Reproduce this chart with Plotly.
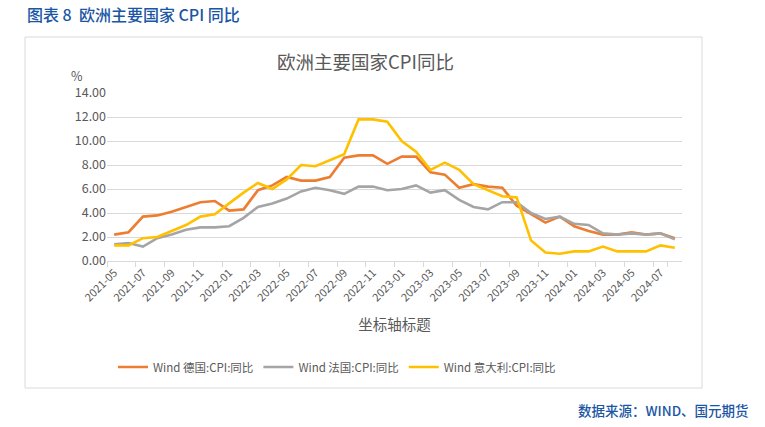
import plotly.graph_objects as go

months = [f"{y}-{m:02d}" for y, m in
          [(2021, m) for m in range(5, 13)] + [(2022, m) for m in range(1, 13)] +
          [(2023, m) for m in range(1, 13)] + [(2024, m) for m in range(1, 9)]]

germany = [2.2, 2.4, 3.7, 3.8, 4.1, 4.5, 4.9, 5.0,
           4.2, 4.3, 5.9, 6.3, 7.0, 6.7, 6.7, 7.0, 8.6, 8.8, 8.8, 8.1,
           8.7, 8.7, 7.4, 7.2, 6.1, 6.4, 6.2, 6.1, 4.6, 3.9, 3.2, 3.7,
           2.9, 2.5, 2.2, 2.2, 2.4, 2.2, 2.3, 1.9]
france = [1.4, 1.5, 1.2, 1.9, 2.2, 2.6, 2.8, 2.8,
          2.9, 3.6, 4.5, 4.8, 5.2, 5.8, 6.1, 5.9, 5.6, 6.2, 6.2, 5.9,
          6.0, 6.3, 5.7, 5.9, 5.1, 4.5, 4.3, 4.9, 4.9, 4.0, 3.5, 3.7,
          3.1, 3.0, 2.3, 2.2, 2.3, 2.2, 2.3, 1.8]
italy = [1.3, 1.3, 1.9, 2.0, 2.5, 3.0, 3.7, 3.9,
         4.8, 5.7, 6.5, 6.0, 6.8, 8.0, 7.9, 8.4, 8.9, 11.8, 11.8, 11.6,
         10.0, 9.1, 7.6, 8.2, 7.6, 6.4, 5.9, 5.4, 5.3, 1.7, 0.7, 0.6,
         0.8, 0.8, 1.2, 0.8, 0.8, 0.8, 1.3, 1.1]

series_names = ["Wind 德国:CPI:同比", "Wind 法国:CPI:同比", "Wind 意大利:CPI:同比"]
colors = ["#ED7D31", "#A5A5A5", "#FFC000"]

tick_labels = months[::2]
y_ticks = [0, 2, 4, 6, 8, 10, 12, 14]

FONT = "Noto Sans CJK SC, Liberation Sans, sans-serif"
GRAY = "#595959"

fig = go.Figure()
for name, vals, c in zip(series_names, [germany, france, italy], colors):
    fig.add_trace(go.Scatter(x=months, y=vals, mode="lines", name=name,
                             line=dict(color=c, width=2.6)))

# plot area in pixels: x 107..682, y 93..261
L, R, T, B = 107, 682, 93, 261
W, H = 765, 427
PW, PH = R - L, B - T

def px(x):
    return (x - L) / PW

def py(y):
    return (B - y) / PH

fig.update_layout(
    width=W, height=H,
    margin=dict(l=L, r=W - R, t=T, b=H - B),
    paper_bgcolor="white", plot_bgcolor="white",
    font=dict(family=FONT, color=GRAY, size=11),
    showlegend=True,
    legend=dict(orientation="h", x=px(337), xanchor="center", y=py(367), yanchor="middle",
                font=dict(size=11.5, color=GRAY), itemwidth=30, tracegroupgap=0,
                bgcolor="rgba(0,0,0,0)"),
    xaxis=dict(type="category", range=[-0.5, len(months) - 0.5],
               tickvals=tick_labels, ticktext=tick_labels, tickangle=-45,
               tickson="boundaries", ticks="outside", ticklen=5, tickcolor="#D9D9D9",
               showline=True, linecolor="#D9D9D9", linewidth=1, showgrid=False,
               tickfont=dict(size=11, color=GRAY),
               title=dict(text="坐标轴标题", font=dict(size=14.5, color=GRAY), standoff=16)),
    yaxis=dict(range=[0, 14], tickvals=y_ticks, ticktext=[f"{v:.2f}" for v in y_ticks],
               showgrid=True, gridcolor="#D9D9D9", gridwidth=1, zeroline=False,
               showline=False, ticks="", tickfont=dict(size=12.5, color=GRAY)),
)

fig.add_shape(type="rect", xref="paper", yref="paper",
              x0=px(25), x1=px(702), y0=py(388), y1=py(37),
              line=dict(color="#D9D9D9", width=1), layer="below")

anns = [
    dict(text="图表 8  欧洲主要国家 CPI 同比", x=px(25), y=py(14), xanchor="left", yanchor="middle",
         font=dict(size=16, color="#1A56A4", family=FONT, weight=500)),
    dict(text="欧洲主要国家CPI同比", x=px(365), y=py(61), xanchor="center", yanchor="middle",
         font=dict(size=18.5, color=GRAY, family=FONT)),
    dict(text="%", x=px(77), y=py(76), xanchor="center", yanchor="middle",
         font=dict(size=12.5, color=GRAY, family=FONT)),
    dict(text="数据来源：WIND、国元期货", x=px(751), y=py(410), xanchor="right", yanchor="middle",
         font=dict(size=13.5, color="#1A56A4", family=FONT, weight=500)),
]
for a in anns:
    fig.add_annotation(xref="paper", yref="paper", showarrow=False, **a)

fig.write_html("out.html")
